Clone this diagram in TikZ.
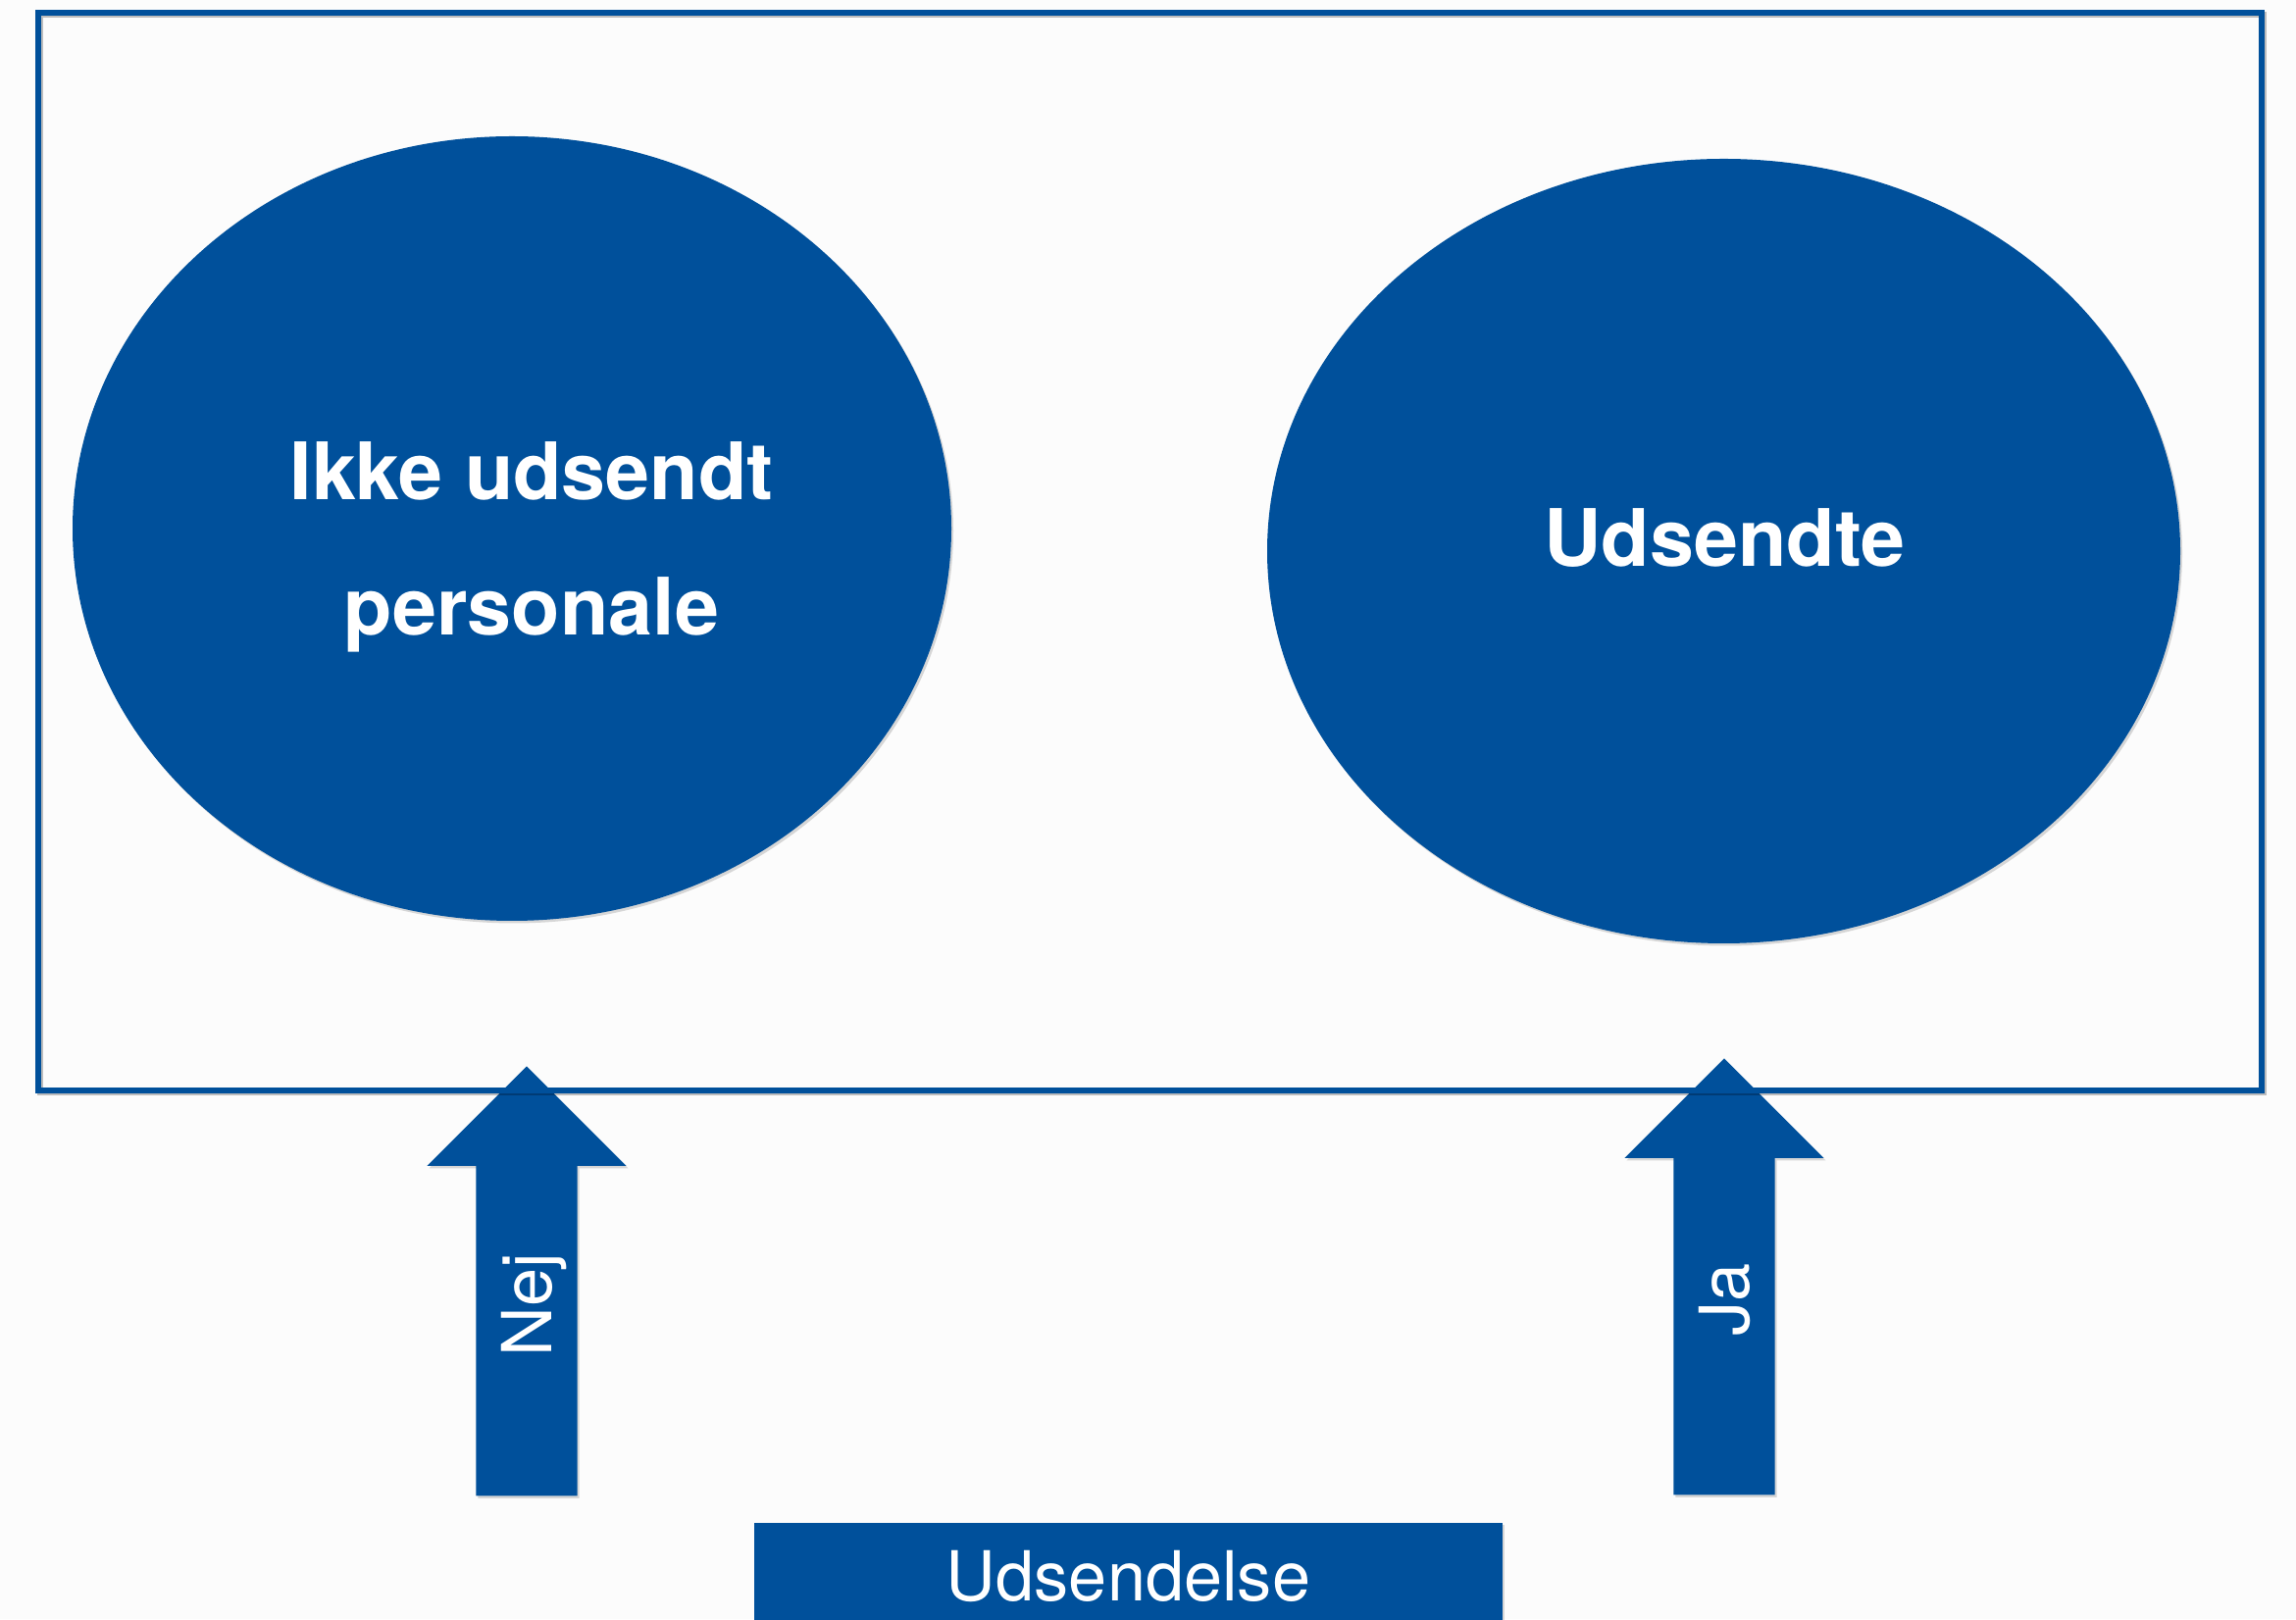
\documentclass[tikz,border=0pt]{standalone}
\usepackage{fontspec}
\setmainfont{TeX Gyre Heros}
\usetikzlibrary{calc}
\usetikzlibrary{shapes.geometric}
\usetikzlibrary{shapes.arrows}
\usetikzlibrary{shadows}
\definecolor{udblue}{RGB}{0,80,155}
\definecolor{paper}{RGB}{252,252,252}
\tikzset{
  soft/.style={drop shadow={shadow xshift=0.02cm,shadow yshift=-0.025cm,opacity=0.3}},
  blob/.style={ellipse,fill=udblue,inner sep=0pt,soft},
  uparrow/.style={single arrow,fill=udblue,rotate=90,inner xsep=0pt,inner ysep=0.51cm,
    single arrow head extend=0.5cm,single arrow tip angle=90,soft},
  armtext/.style={rotate=90,text=white,inner sep=0pt,text depth=0pt,font=\fontsize{20}{24}\selectfont},
  bigtext/.style={text=white,inner sep=0pt,align=center,font=\fontsize{23}{39.3}\selectfont\bfseries},
}

\begin{document}
\begin{tikzpicture}

\useasboundingbox[fill=paper] (0,0) rectangle (23.41,16.51);

\coordinate (nejfoot) at (5.37,1.25);
\coordinate (jafoot) at (17.58,1.26);

\node[uparrow,minimum height=4.38cm,anchor=tail] (nejarrow) at (nejfoot) {};
\node[uparrow,minimum height=4.45cm,anchor=tail] (jaarrow) at (jafoot) {};

\draw[black,opacity=0.25,line width=0.06cm] (0.41,16.36) rectangle (23.08,5.37);
\draw[udblue,line width=0.06cm] (0.39,16.38) rectangle (23.06,5.39);

\node[blob,minimum width=8.96cm,minimum height=8cm] (ikke) at (5.22,11.12) {};
\node[blob,minimum width=9.31cm,minimum height=8cm] (udsendte) at (17.575,10.89) {};

\node[bigtext,anchor=base] (ikketext) at (5.42,10.03) {Ikke udsendt\\personale};
\node[bigtext,anchor=base] (udsendtetext) at (17.585,10.73) {Udsendte};

\node[armtext] (nejtext) at ($(nejarrow.tail)!0.445!(nejarrow.tip)$) {Nej};
\node[armtext] (jatext) at ($(jaarrow.tail)!0.447!(jaarrow.tip)$) {Ja};

\node[fill=udblue,text=white,minimum width=7.63cm,minimum height=1.08cm,inner sep=0pt,
  text depth=0pt,font=\fontsize{20}{24}\selectfont,soft] (udsendelse) at (11.505,0.44) {Udsendelse};

\end{tikzpicture}
\end{document}
